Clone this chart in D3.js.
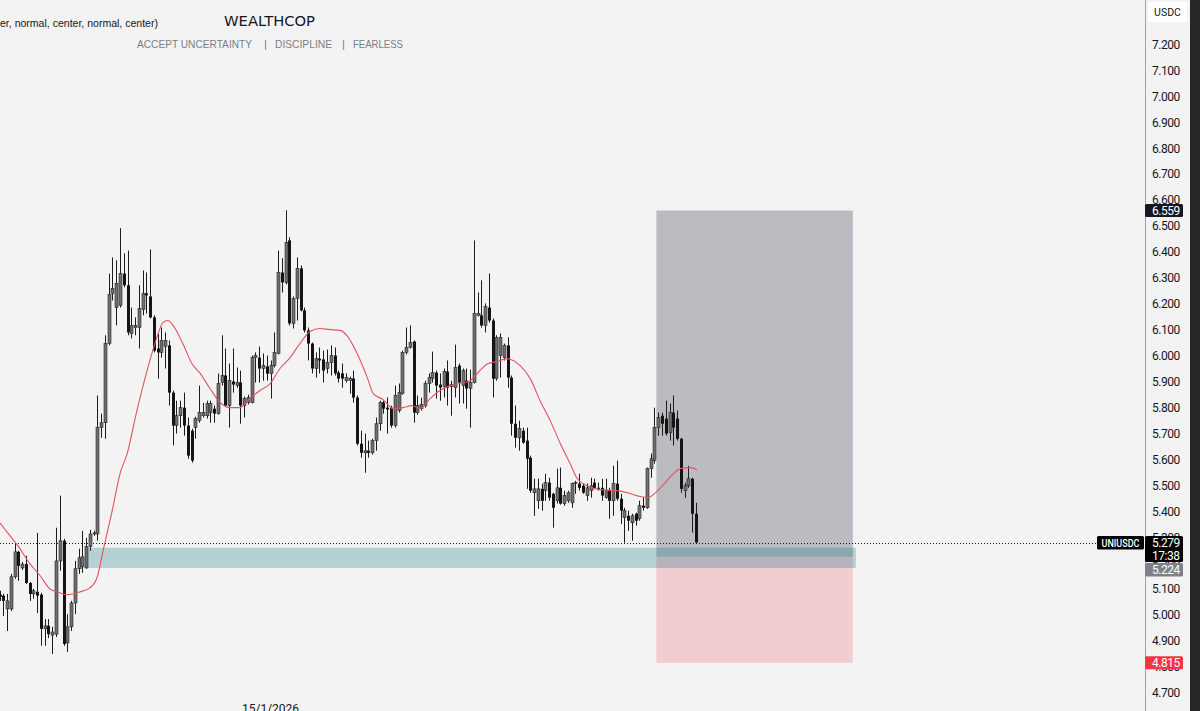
<!DOCTYPE html>
<html>
<head>
<meta charset="utf-8">
<script src="https://cdn.jsdelivr.net/npm/d3@7"></script>
<style>
  html, body { margin: 0; padding: 0; background: #f3f3f3; }
  #container { width: 1200px; height: 711px; overflow: hidden; }
</style>
</head>
<body>
<div id="container"></div>
<script>
// UNIUSDC candles, [open, high, low, close], one row per bar (bar 0 is cut at the left edge)
const candles = [
  [5.078,5.093,5.054,5.070],
  [5.074,5.081,4.996,5.054],
  [5.023,5.081,4.938,5.054],
  [5.023,5.158,5.015,5.147],
  [5.147,5.278,5.139,5.243],
  [5.243,5.247,5.131,5.189],
  [5.181,5.204,5.173,5.196],
  [5.196,5.228,5.119,5.123],
  [5.123,5.127,5.054,5.081],
  [5.081,5.100,5.062,5.093],
  [5.089,5.316,5.007,5.074],  //10
  [5.078,5.085,4.881,4.946],
  [4.946,4.984,4.881,4.958],
  [4.958,4.984,4.911,4.926],
  [4.922,4.954,4.849,4.934],
  [4.926,5.336,4.915,5.208],  //15
  [5.208,5.460,5.170,5.286],
  [5.286,5.293,4.881,4.888],
  [4.892,5.003,4.857,4.954],
  [4.954,5.054,4.938,5.046],
  [5.046,5.208,5.003,5.178],  //20
  [5.178,5.255,5.158,5.220],
  [5.185,5.324,5.162,5.224],
  [5.181,5.297,5.178,5.263],
  [5.263,5.328,5.247,5.312],
  [5.312,5.324,5.305,5.316],  //25
  [5.312,5.846,5.286,5.722],
  [5.722,5.776,5.683,5.741],
  [5.741,6.078,5.679,6.046],
  [6.046,6.316,6.039,6.236],
  [6.240,6.378,6.212,6.259],  //30
  [6.185,6.367,6.116,6.278],
  [6.193,6.491,6.185,6.316],
  [6.316,6.394,6.263,6.271],
  [6.271,6.405,6.078,6.089],
  [6.085,6.185,6.066,6.116],  //35
  [6.108,6.147,6.078,6.116],
  [6.108,6.271,6.027,6.182],
  [6.178,6.328,6.155,6.240],
  [6.240,6.320,6.162,6.232],
  [6.228,6.409,6.143,6.147],  //40
  [6.147,6.155,6.012,6.019],
  [6.027,6.085,5.911,6.012],
  [6.012,6.108,5.992,6.058],
  [6.035,6.089,5.950,6.058],
  [6.039,6.058,5.807,5.857],  //45
  [5.857,5.865,5.653,5.730],
  [5.730,5.826,5.699,5.768],
  [5.768,5.826,5.722,5.799],
  [5.799,5.857,5.691,5.730],
  [5.730,5.761,5.602,5.614],  //50
  [5.710,5.718,5.587,5.595],
  [5.722,5.764,5.679,5.757],
  [5.749,5.884,5.741,5.780],
  [5.768,5.818,5.761,5.780],
  [5.768,5.826,5.757,5.815],  //55
  [5.780,5.826,5.741,5.815],
  [5.795,5.807,5.741,5.776],
  [5.776,5.931,5.772,5.892],
  [5.896,6.078,5.884,5.923],
  [5.923,6.027,5.803,5.807],  //60
  [5.807,5.969,5.722,5.903],
  [5.900,6.027,5.857,5.888],
  [5.884,5.954,5.876,5.896],
  [5.896,5.942,5.737,5.807],
  [5.807,5.842,5.761,5.834],  //65
  [5.819,5.849,5.811,5.838],
  [5.819,6.000,5.815,5.992],
  [5.992,6.012,5.896,6.000],
  [5.992,6.035,5.896,5.950],
  [5.950,6.008,5.903,5.961],  //70
  [5.958,6.000,5.903,5.930],
  [5.930,5.981,5.834,5.961],
  [5.961,6.089,5.954,6.012],
  [6.008,6.405,6.004,6.320],
  [6.320,6.375,6.243,6.282],  //75
  [6.282,6.560,6.274,6.436],
  [6.444,6.456,6.116,6.124],
  [6.124,6.228,6.104,6.220],
  [6.220,6.378,6.135,6.336],
  [6.336,6.347,6.170,6.174],  //80
  [6.174,6.185,6.089,6.097],
  [6.097,6.108,5.981,6.046],
  [6.046,6.050,5.931,5.950],
  [5.950,6.012,5.915,5.988],
  [5.988,6.031,5.931,5.981],  //85
  [5.985,6.019,5.896,5.942],
  [5.950,6.023,5.931,5.973],
  [5.973,6.039,5.923,6.000],
  [6.000,6.031,5.923,5.931],
  [5.934,5.942,5.896,5.911],  //90
  [5.931,5.969,5.876,5.911],
  [5.903,5.931,5.896,5.915],
  [5.903,5.919,5.853,5.911],
  [5.911,5.942,5.819,5.838],
  [5.838,5.846,5.653,5.660],  //95
  [5.660,5.710,5.606,5.625],
  [5.625,5.699,5.548,5.633],
  [5.633,5.672,5.606,5.625],
  [5.625,5.679,5.618,5.672],
  [5.672,5.761,5.633,5.737],  //100
  [5.737,5.826,5.710,5.819],
  [5.819,5.826,5.776,5.795],
  [5.799,5.838,5.699,5.792],
  [5.799,5.807,5.722,5.730],
  [5.730,5.884,5.722,5.846],  //105
  [5.788,5.892,5.780,5.857],
  [5.853,6.019,5.849,6.012],
  [6.012,6.108,6.004,6.031],
  [6.031,6.116,6.027,6.050],
  [6.054,6.058,5.741,5.780],  //110
  [5.780,5.846,5.772,5.807],
  [5.795,5.838,5.788,5.811],
  [5.807,5.903,5.799,5.892],
  [5.892,5.931,5.857,5.915],
  [5.911,6.015,5.896,5.934],  //115
  [5.934,5.942,5.834,5.884],
  [5.888,5.931,5.826,5.876],
  [5.880,5.950,5.838,5.938],
  [5.938,5.981,5.807,5.876],
  [5.880,5.903,5.768,5.888],  //120
  [5.876,6.042,5.838,5.954],
  [5.961,5.969,5.815,5.896],
  [5.884,5.950,5.815,5.942],
  [5.903,5.950,5.795,5.873],
  [5.873,5.946,5.722,5.896],  //125
  [5.896,6.444,5.892,6.162],
  [6.155,6.243,6.151,6.162],
  [6.155,6.290,6.108,6.116],
  [6.116,6.201,6.089,6.189],
  [6.185,6.316,6.127,6.135],  //130
  [6.135,6.143,5.838,5.911],
  [5.911,6.078,5.903,6.070],
  [6.000,6.085,5.915,6.070],
  [5.992,6.046,5.981,6.039],
  [6.039,6.070,5.876,5.915],  //135
  [5.915,5.923,5.691,5.737],
  [5.737,5.807,5.645,5.683],
  [5.683,5.749,5.633,5.718],
  [5.710,5.722,5.660,5.664],
  [5.672,5.722,5.486,5.602],  //140
  [5.606,5.614,5.471,5.479],
  [5.471,5.525,5.382,5.486],
  [5.440,5.525,5.409,5.486],
  [5.486,5.506,5.402,5.440],
  [5.479,5.544,5.440,5.510],  //145
  [5.510,5.529,5.440,5.452],
  [5.467,5.471,5.336,5.413],
  [5.440,5.564,5.429,5.490],
  [5.490,5.568,5.425,5.429],
  [5.429,5.479,5.421,5.460],  //150
  [5.440,5.479,5.432,5.471],
  [5.432,5.510,5.413,5.506],
  [5.506,5.517,5.467,5.510],
  [5.506,5.544,5.479,5.490],
  [5.498,5.506,5.467,5.471],  //155
  [5.460,5.506,5.440,5.490],
  [5.479,5.529,5.452,5.498],
  [5.510,5.525,5.486,5.490],
  [5.490,5.510,5.479,5.486],
  [5.490,5.525,5.440,5.460],  //160
  [5.452,5.525,5.448,5.479],
  [5.479,5.490,5.371,5.440],
  [5.440,5.575,5.382,5.506],
  [5.506,5.595,5.440,5.448],
  [5.448,5.467,5.351,5.402],  //165
  [5.375,5.413,5.278,5.402],
  [5.382,5.402,5.324,5.363],
  [5.355,5.390,5.286,5.382],
  [5.390,5.394,5.344,5.363],
  [5.371,5.440,5.363,5.421],  //170
  [5.421,5.452,5.402,5.413],
  [5.413,5.568,5.409,5.564],
  [5.564,5.622,5.529,5.602],
  [5.595,5.799,5.583,5.722],
  [5.722,5.780,5.691,5.761],  //175
  [5.768,5.780,5.691,5.737],
  [5.757,5.826,5.691,5.699],
  [5.703,5.815,5.672,5.780],
  [5.780,5.846,5.653,5.722],
  [5.757,5.788,5.672,5.679],  //180
  [5.679,5.683,5.471,5.486],
  [5.479,5.510,5.452,5.498],
  [5.498,5.575,5.490,5.525],
  [5.525,5.529,5.317,5.390],
  [5.390,5.432,5.278,5.279]   //185
];

// red moving average (bar index -> price)
const maIndex = [0.1, 2.8, 4.9, 8.1, 10.8, 13.4, 15.3, 17.9, 21.4, 24.0, 25.9, 27.5, 30.1, 32.0, 33.9,
  36.5, 39.2, 41.8, 43.4, 44.7, 46.1, 48.7, 51.1, 53.3, 55.9, 58.6, 61.2, 63.9, 66.5, 69.2,
  71.9, 74.5, 77.2, 79.8, 82.5, 85.1, 87.8, 90.5, 92.3, 95.0, 97.7, 99.3, 101.9, 104.6, 107.2,
  109.6, 111.7, 114.4, 117.0, 119.7, 122.3, 125.0, 127.6, 129.8, 132.2, 134.8, 138.3, 141.0, 143.6,
  146.3, 149.0, 151.6, 153.5, 156.1, 159.6, 164.1, 166.8, 169.5, 172.1, 175.6, 179.0, 180.9, 183.6, 185.3];
const maValue = [5.355, 5.305, 5.266, 5.197, 5.151, 5.100, 5.089, 5.078, 5.089, 5.104, 5.143, 5.247, 5.413, 5.544, 5.622,
  5.788, 5.942, 6.070, 6.127, 6.135, 6.116, 6.046, 5.969, 5.931, 5.873, 5.819, 5.799, 5.799, 5.834, 5.865,
  5.892, 5.950, 5.992, 6.046, 6.093, 6.104, 6.100, 6.097, 6.077, 6.008, 5.915, 5.853, 5.830, 5.795, 5.799,
  5.807, 5.795, 5.834, 5.865, 5.884, 5.892, 5.903, 5.942, 5.969, 5.977, 5.988, 5.961, 5.911, 5.826,
  5.749, 5.660, 5.583, 5.525, 5.498, 5.483, 5.479, 5.471, 5.459, 5.452, 5.490, 5.544, 5.564, 5.568, 5.560];

const priceTicks = [7.2, 7.1, 7.0, 6.9, 6.8, 6.7, 6.6, 6.5, 6.4, 6.3, 6.2, 6.1, 6.0,
  5.9, 5.8, 5.7, 5.6, 5.5, 5.4, 5.3, 5.2, 5.1, 5.0, 4.9, 4.8, 4.7];
const dateTickIndex = [72];
const dateTickLabel = ["15/1/2026"];

// long position tool: target / entry / stop, and the bars it spans
const target = 6.559, entry = 5.224, stop = 4.815;
const positionBars = [174.5, 226.7];
// teal demand zone
const zoneTop = 5.259, zoneBottom = 5.181;
const zoneBars = [23, 227.5];
const lastPrice = 5.279, countdown = "17:38", symbol = "UNIUSDC";

const width = 1200, height = 711;
const plotRight = 1145;

const svg = d3.create("svg")
    .attr("width", width)
    .attr("height", height)
    .attr("viewBox", `0 0 ${width} ${height}`)
    .attr("xmlns", "http://www.w3.org/2000/svg")
    .style("display", "block");

const x = d3.scaleLinear().domain([1, 185]).range([3.3, 695.9]);
const y = d3.scaleLinear().domain([4.7, 7.2]).range([692.7, 44.3]);

svg.append("rect").attr("width", width).attr("height", height).attr("fill", "#f3f3f3");

svg.append("clipPath").attr("id", "plot")
  .append("rect").attr("x", 0).attr("y", 0).attr("width", plotRight).attr("height", height);

const plot = svg.append("g").attr("clip-path", "url(#plot)");

// position tool
plot.append("rect")
    .attr("x", x(positionBars[0])).attr("width", x(positionBars[1]) - x(positionBars[0]))
    .attr("y", y(target)).attr("height", y(entry) - y(target))
    .attr("fill", "rgba(118,121,132,0.45)");
plot.append("rect")
    .attr("x", x(positionBars[0])).attr("width", x(positionBars[1]) - x(positionBars[0]))
    .attr("y", y(entry)).attr("height", y(stop) - y(entry))
    .attr("fill", "rgba(242,54,69,0.2)");

// zone
plot.append("rect")
    .attr("x", x(zoneBars[0])).attr("width", x(zoneBars[1]) - x(zoneBars[0]))
    .attr("y", y(zoneTop)).attr("height", y(zoneBottom) - y(zoneTop))
    .attr("fill", "rgba(0,108,118,0.25)");

// last price dotted line
plot.append("line")
    .attr("x1", 0).attr("x2", plotRight)
    .attr("y1", Math.round(y(lastPrice)) + 0.5).attr("y2", Math.round(y(lastPrice)) + 0.5)
    .attr("stroke", "#131722").attr("stroke-width", 1).attr("stroke-dasharray", "1,2");

// candles
const bars = plot.append("g").selectAll("g")
  .data(candles)
  .join("g");

bars.append("line")
    .attr("x1", (d, i) => Math.round(x(i)) + 0.5)
    .attr("x2", (d, i) => Math.round(x(i)) + 0.5)
    .attr("y1", d => y(d[1]))
    .attr("y2", d => y(d[2]))
    .attr("stroke", "#1c1c1c")
    .attr("stroke-width", 1);

bars.append("rect")
    .attr("x", (d, i) => Math.round(x(i)) - 1)
    .attr("width", 3)
    .attr("y", d => y(Math.max(d[0], d[3])))
    .attr("height", d => Math.max(1, Math.abs(y(d[0]) - y(d[3]))))
    .attr("fill", d => d[3] >= d[0] ? "#707070" : "#141414")
    .attr("stroke", d => d[3] >= d[0] ? "#262626" : "none")
    .attr("stroke-width", 0.6);

// moving average
const maPoints = maIndex.map((v, i) => [v, maValue[i]]);
plot.append("path")
    .datum(maPoints)
    .attr("d", d3.line().x(d => x(d[0])).y(d => y(d[1])).curve(d3.curveMonotoneX))
    .attr("fill", "none")
    .attr("stroke", "#e2535e")
    .attr("stroke-width", 1.1);

// header texts
svg.append("text")
    .attr("x", 0).attr("y", 27)
    .attr("font-family", "Liberation Sans, Arial, sans-serif").attr("font-size", 11)
    .attr("textLength", 158).attr("lengthAdjust", "spacingAndGlyphs")
    .attr("fill", "#131722")
    .text("er, normal, center, normal, center)");
svg.append("text")
    .attr("x", 224).attr("y", 26)
    .attr("font-family", "DejaVu Sans, sans-serif").attr("font-size", 14.5)
    .attr("textLength", 91).attr("lengthAdjust", "spacingAndGlyphs")
    .attr("fill", "#131722")
    .text("WEALTHCOP");

const subtitle = [["ACCEPT UNCERTAINTY", 137, 115], ["|", 264, 0], ["DISCIPLINE", 275, 57], ["|", 342, 0], ["FEARLESS", 353, 50]];
subtitle.forEach(([t, tx, tl]) => {
  const el = svg.append("text")
      .attr("x", tx).attr("y", 48)
      .attr("font-family", "Liberation Sans, Arial, sans-serif").attr("font-size", 11.5)
      .attr("fill", "#7b7e87")
      .text(t);
  if (tl) el.attr("textLength", tl).attr("lengthAdjust", "spacingAndGlyphs");
});

// date label (bottom, mostly cut off by the frame as in the screenshot)
svg.append("g").selectAll("text")
  .data(dateTickIndex)
  .join("text")
    .attr("x", d => x(d))
    .attr("y", 713)
    .attr("text-anchor", "middle")
    .attr("font-family", "Roboto, sans-serif").attr("font-size", 12)
    .attr("fill", "#131722")
    .text((d, i) => dateTickLabel[i]);

// price scale
svg.append("line")
    .attr("x1", plotRight + 0.5).attr("x2", plotRight + 0.5)
    .attr("y1", 0).attr("y2", height)
    .attr("stroke", "#a3a3a3").attr("stroke-width", 1);
svg.append("rect").attr("x", 1190).attr("y", 0).attr("width", 10).attr("height", height).attr("fill", "#262626");

const axisFont = "Roboto, sans-serif";
svg.append("g").selectAll("text")
  .data(priceTicks)
  .join("text")
    .attr("x", 1152)
    .attr("y", d => y(d) + 4.5)
    .attr("font-family", axisFont).attr("font-size", 12)
    .attr("letter-spacing", -0.5)
    .attr("fill", "#131722")
    .text(d => d.toFixed(3));

svg.append("rect").attr("x", 1148).attr("y", 2).attr("width", 39).attr("height", 20).attr("fill", "#ffffff");
svg.append("text")
    .attr("x", 1167.5).attr("y", 16).attr("text-anchor", "middle")
    .attr("font-family", axisFont).attr("font-size", 10.5)
    .attr("fill", "#131722")
    .text("USDC");

function badge(yTop, h, fill, lines) {
  svg.append("rect")
      .attr("x", plotRight).attr("y", yTop).attr("width", 38).attr("height", h)
      .attr("rx", 1.5).attr("fill", fill);
  lines.forEach(([t, base]) => {
    svg.append("text")
        .attr("x", 1152).attr("y", base)
        .attr("font-family", axisFont).attr("font-size", 12)
        .attr("letter-spacing", -0.5)
        .attr("fill", "#ffffff")
        .text(t);
  });
}

badge(y(target) - 6.5, 13, "#131722", [[target.toFixed(3), y(target) + 4.5]]);
badge(y(lastPrice) - 6.5, 26, "#000000", [[lastPrice.toFixed(3), y(lastPrice) + 4.5], [countdown, y(lastPrice) + 17]]);
badge(563, 13.5, "#7e8189", [[entry.toFixed(3), 573.8]]);
badge(y(stop) - 6.5, 13, "#f23645", [[stop.toFixed(3), y(stop) + 4.5]]);

// symbol tag left of the last price badge
svg.append("rect")
    .attr("x", 1097).attr("y", y(lastPrice) - 6.5).attr("width", 47).attr("height", 13.5)
    .attr("rx", 1.5).attr("fill", "#000000");
svg.append("text")
    .attr("x", 1120.5).attr("y", y(lastPrice) + 4)
    .attr("text-anchor", "middle")
    .attr("font-family", axisFont).attr("font-size", 10).attr("font-weight", 500)
    .attr("textLength", 38).attr("lengthAdjust", "spacingAndGlyphs")
    .attr("fill", "#ffffff")
    .text(symbol);

document.getElementById("container").append(svg.node());
</script>
</body>
</html>
